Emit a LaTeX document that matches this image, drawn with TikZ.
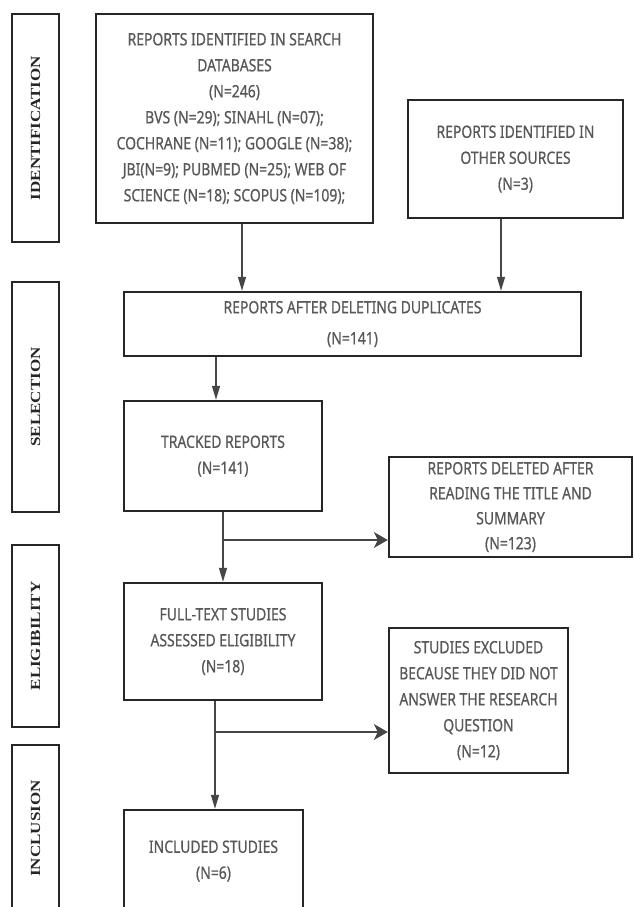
\documentclass[tikz,border=0pt]{standalone}
\usepackage{fontspec}
\usepackage{tikz}
\usetikzlibrary{arrows.meta,positioning}
\newfontfamily\boxfont{Noto Sans}[FakeStretch=0.82,FakeBold=0.7]
\newfontfamily\stagefont{Liberation Serif}
\newcommand{\stagetxt}[1]{\scalebox{1}[0.82]{#1}}
\definecolor{txtgray}{RGB}{88,88,88}
\definecolor{linedark}{RGB}{38,38,38}
\definecolor{arrgray}{RGB}{70,70,70}

\begin{document}
\begin{tikzpicture}[x=1pt,y=-1pt]
  \tikzset{flow box/.style={draw=linedark,line width=2.4pt,rectangle,inner sep=0pt,
      align=center,text=txtgray,font=\boxfont\fontsize{17}{26}\selectfont,minimum width=#1},
    stage box/.style={draw=linedark,line width=2.4pt,rectangle,inner sep=0pt,rotate=90,
      minimum height=47pt,text=linedark,font=\stagefont\bfseries\fontsize{17}{20}\selectfont,minimum width=#1},
    down arr/.style={draw=arrgray,line width=1.3pt,-{Triangle[length=14pt,width=8pt]}},
    side arr/.style={draw=arrgray,line width=1.3pt,-{Stealth[length=14pt,width=16pt,inset=4pt]}}}
  \useasboundingbox (0,0) rectangle (633,907);

  % stages
  \node (ident) [stage box=228pt] at (35.5,128) {\stagetxt{IDENTIFICATION}};
  \node (selec) [stage box=230pt] at (35.5,397) {\stagetxt{SELECTION}};
  \node (elig) [stage box=182pt] at (35.5,636) {\stagetxt{ELIGIBILITY}};
  \node (inclu) [stage box=167pt] at (35.5,828.5) {\stagetxt{INCLUSION}};

  % boxes
  \node (search) [flow box=277pt, minimum height=209pt] at (234.5,118.5)
    {REPORTS IDENTIFIED IN SEARCH\\DATABASES\\(N=246)\\BVS (N=29); SINAHL (N=07);\\
     COCHRANE (N=11); GOOGLE (N=38);\\JBI(N=9); PUBMED (N=25); WEB OF\\SCIENCE (N=18); SCOPUS (N=109);};
  \node (other) [flow box=215pt, minimum height=118pt] at (515.5,159)
    {REPORTS IDENTIFIED IN\\OTHER SOURCES\\(N=3)};
  \node (dupl) [flow box=457pt, minimum height=64pt] at (352.5,324)
    {REPORTS AFTER DELETING DUPLICATES\\[5pt](N=141)};
  \node (track) [flow box=198pt, minimum height=110pt] at (223,456)
    {TRACKED REPORTS\\(N=141)};
  \node (deleted) [flow box=243pt, minimum height=100pt] at (510.5,507)
    {REPORTS DELETED AFTER\\[-1pt]READING THE TITLE AND\\[-1pt]SUMMARY\\[-1pt](N=123)};
  \node (full) [flow box=198pt, minimum height=117pt] at (223,641.5)
    {FULL-TEXT STUDIES\\ASSESSED ELIGIBILITY\\(N=18)};
  \node (excl) [flow box=179pt, minimum height=145pt] at (478.5,700.5)
    {STUDIES EXCLUDED\\BECAUSE THEY DID NOT\\ANSWER THE RESEARCH\\QUESTION\\(N=12)};
  \node (incl) [flow box=179pt, minimum height=102pt] at (213.5,861)
    {INCLUDED STUDIES\\(N=6)};

  % connectors
  \coordinate (c1) at (242,0);
  \coordinate (c2) at (501,0);
  \coordinate (c3) at (216,0);
  \coordinate (c4) at (215,0);
  \coordinate (b1) at (223,540);
  \coordinate (b2) at (215,732);
  \draw[down arr] (search.south -| c1) -- (dupl.north -| c1);
  \draw[down arr] (other.south -| c2) -- (dupl.north -| c2);
  \draw[down arr] (dupl.south -| c3) -- (track.north -| c3);
  \draw[down arr] (track) -- (full);
  \draw[side arr] (b1) -- (b1 -| deleted.west);
  \draw[down arr] (full.south -| c4) -- (incl.north -| c4);
  \draw[side arr] (b2) -- (b2 -| excl.west);
\end{tikzpicture}
\end{document}
